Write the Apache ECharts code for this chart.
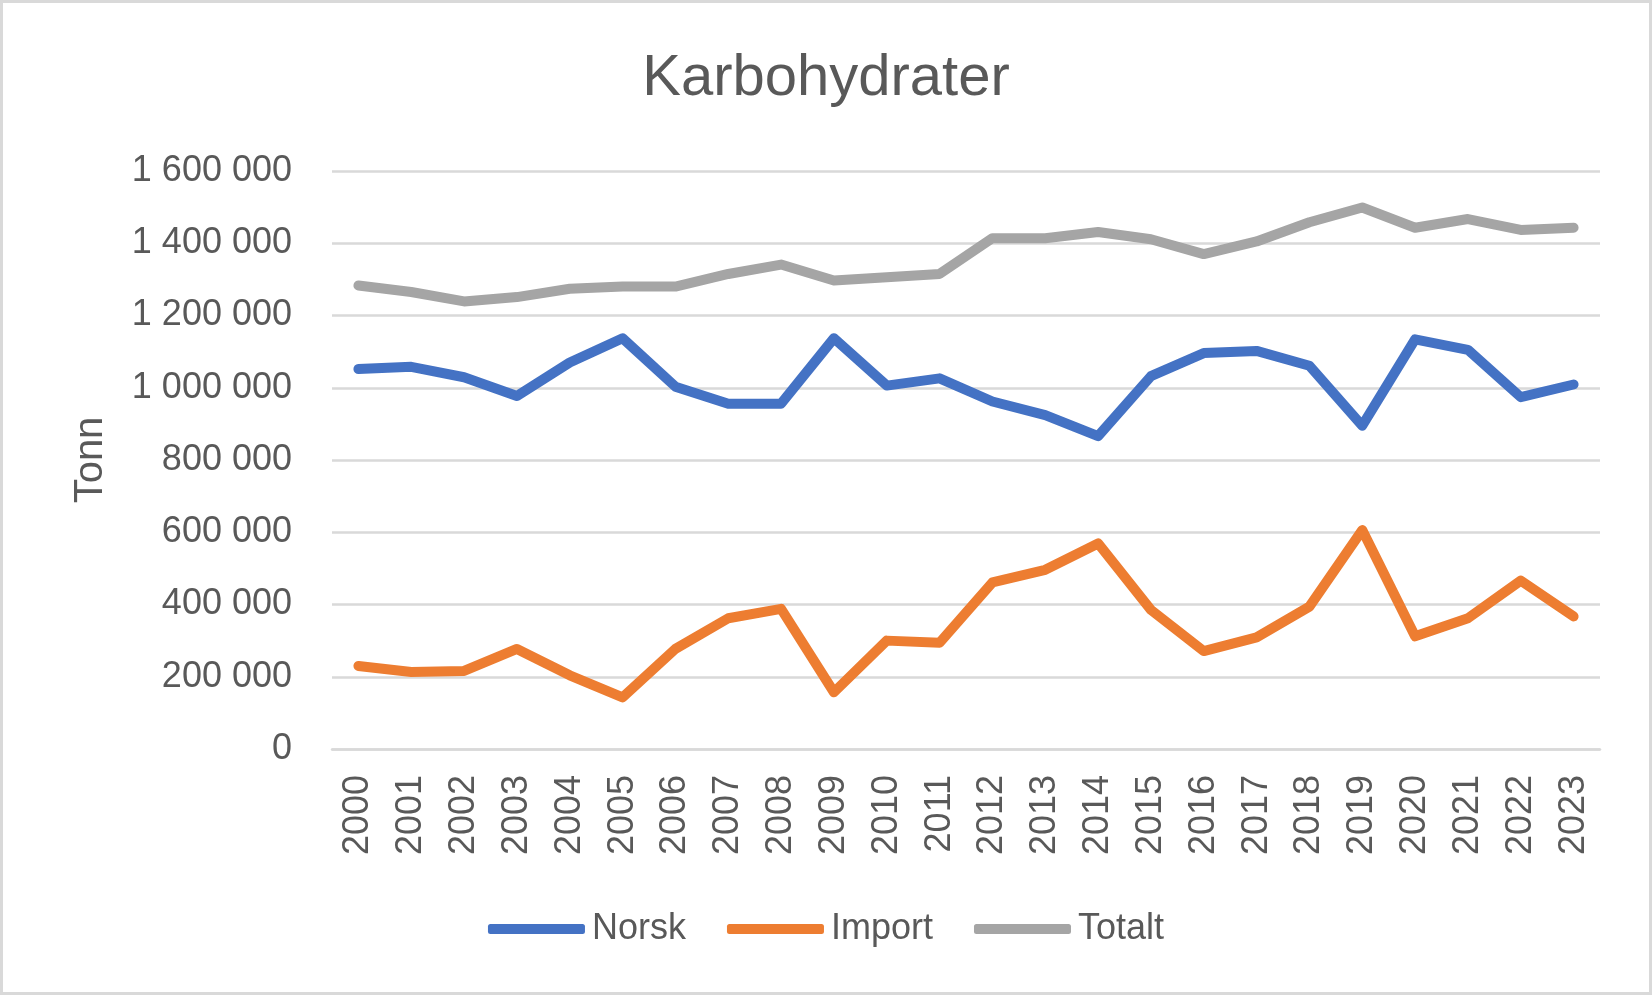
<!DOCTYPE html>
<html>
<head>
<meta charset="utf-8">
<script src="https://cdn.jsdelivr.net/npm/echarts@6/dist/echarts.min.js"></script>
<style>
html,body{margin:0;padding:0;background:#fff;}
#c{width:1652px;height:995px;}
</style>
</head>
<body>
<div id="c"></div>
<script>
const years = ['2000','2001','2002','2003','2004','2005','2006','2007','2008','2009','2010','2011','2012','2013','2014','2015','2016','2017','2018','2019','2020','2021','2022','2023'];
const norsk = [1052000,1058000,1029000,977000,1070000,1137000,1003000,956000,956000,1137000,1006000,1026000,962000,924000,866000,1032000,1096000,1102000,1061000,895000,1134000,1105000,974000,1009000];
const importData = [230000,213000,216000,277000,204000,143000,277000,362000,388000,157000,300000,294000,461000,496000,569000,385000,271000,309000,394000,606000,312000,362000,466000,367000];
const totalt = [1283000,1265000,1239000,1251000,1274000,1280000,1280000,1315000,1341000,1297000,1306000,1315000,1414000,1414000,1431000,1411000,1370000,1405000,1458000,1499000,1443000,1467000,1437000,1443000];
const seriesNames = ['Norsk','Import','Totalt'];
const titleText = 'Karbohydrater';
const yName = 'Tonn';

const FONT = "'Liberation Sans', Arial, sans-serif";
const TXT = '#595959';
const colors = ['#4472C4','#ED7D31','#A5A5A5'];

function fmt(v){
  return String(v).replace(/\B(?=(\d{3})+(?!\d))/g, ' ');
}

const chart = echarts.init(document.getElementById('c'), null, {renderer:'canvas'});
const mk = (name, data, color) => ({
  name: name,
  type: 'line',
  data: data,
  symbol: 'none',
  showSymbol: false,
  smooth: false,
  itemStyle: {color: color},
  lineStyle: {color: color, width: 10, cap: 'round', join: 'round'},
  emphasis: {disabled: true},
  animation: false
});

chart.setOption({
  animation: false,
  backgroundColor: '#ffffff',
  color: colors,
  title: {
    text: titleText,
    left: 'center',
    top: 45,
    textStyle: {fontFamily: FONT, fontSize: 58, fontWeight: 'normal', color: TXT}
  },
  graphic: [{
    type: 'rect',
    silent: true,
    shape: {x: 1.5, y: 1.5, width: 1649, height: 992},
    style: {fill: 'none', stroke: '#d9d9d9', lineWidth: 3}
  }],
  legend: {
    data: seriesNames,
    left: 'center',
    top: 906,
    icon: 'roundRect',
    itemWidth: 97,
    itemHeight: 10,
    itemGap: 41,
    textStyle: {fontFamily: FONT, fontSize: 36, color: TXT, padding: [0,0,0,2]}
  },
  grid: {left: 332, right: 52, top: 171, bottom: 246, containLabel: false},
  xAxis: {
    type: 'category',
    data: years,
    boundaryGap: true,
    axisLine: {show: true, lineStyle: {color: '#d9d9d9', width: 2.5}},
    axisTick: {show: false},
    splitLine: {show: false},
    axisLabel: {rotate: 90, margin: 26, interval: 0, fontFamily: FONT, fontSize: 36, color: TXT}
  },
  yAxis: {
    type: 'value',
    min: 0,
    max: 1600000,
    interval: 200000,
    name: yName,
    nameLocation: 'middle',
    nameRotate: 90,
    nameGap: 221,
    nameTextStyle: {fontFamily: FONT, fontSize: 40, color: TXT},
    axisLine: {show: false},
    axisTick: {show: false},
    splitLine: {show: true, lineStyle: {color: '#d9d9d9', width: 2.5}},
    axisLabel: {margin: 40, fontFamily: FONT, fontSize: 36, color: TXT, formatter: fmt}
  },
  series: [
    mk(seriesNames[0], norsk, colors[0]),
    mk(seriesNames[1], importData, colors[1]),
    mk(seriesNames[2], totalt, colors[2])
  ]
});
</script>
</body>
</html>
